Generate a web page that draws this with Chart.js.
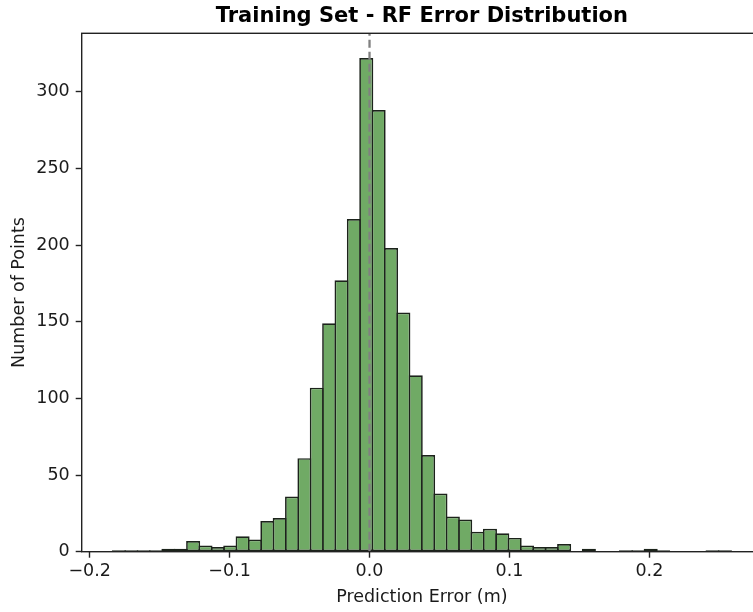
<!DOCTYPE html>
<html><head><meta charset="utf-8">
<script src="https://cdn.jsdelivr.net/npm/chart.js@4.4.0/dist/chart.umd.min.js"></script>
<style>html,body{margin:0;padding:0;overflow:hidden;background:#fff;width:753px;height:612px}canvas{display:block}</style>
</head><body>
<canvas id="c" width="770" height="612"></canvas>
<script>
// ---- data ----
const binStart = -0.1835;   // left edge of first bin
const binEnd = 0.2584;      // right edge of last bin
const counts = [1,1,1,1,2,2,7,4,3,4,10,8,20,22,36,61,107,149,177,217,322,288,198,156,115,63,38,23,21,13,15,12,9,4,3,3,5,0,2,0,0,1,1,2,1,0,0,0,1,1];
const xTicks = [-0.2,-0.1,0.0,0.1,0.2];
const yTicks = [0,50,100,150,200,250,300];
const refLineX = 0;
const xRange = [-0.2057, 0.2805];
const yMax = 338.1;
const titleText = 'Training Set - RF Error Distribution';
const xLabel = 'Prediction Error (m)';
const yLabel = 'Number of Points';

const binW = (binEnd - binStart) / counts.length;
const barData = counts.map((c, i) => ({x: binStart + (i + 0.5) * binW, y: c}));

Chart.defaults.font.family = 'DejaVu Sans';
Chart.defaults.font.size = 17.5;
Chart.defaults.color = '#1a1a1a';

const frame = {
  id: 'frame',
  afterDatasetsDraw(chart) {
    const {ctx, chartArea: a} = chart;
    ctx.save();
    ctx.strokeStyle = '#222';
    ctx.lineWidth = 1.4;
    ctx.strokeRect(a.left, a.top, a.right - a.left, a.bottom - a.top);
    ctx.restore();
  }
};

const tickGrid = {display: true, offset: false, drawOnChartArea: false, drawTicks: true, tickLength: 6, tickWidth: 1.4, tickColor: '#222', color: '#222'};

new Chart(document.getElementById('c'), {
  type: 'bar',
  data: {
    datasets: [
      {type: 'line', data: [{x: refLineX, y: 0}, {x: refLineX, y: yMax}], borderColor: '#808080', borderWidth: 2.3, borderDash: [8, 4], pointRadius: 0, tension: 0, order: 0},
      {type: 'bar', data: barData, backgroundColor: 'rgb(112,170,101)', borderColor: '#1c231b', borderWidth: 1.7, borderSkipped: false, barPercentage: 1.137, categoryPercentage: 1, order: 1}
    ]
  },
  options: {
    responsive: false, animation: false, devicePixelRatio: 1,
    layout: {padding: {left: 0, right: 8, top: 0, bottom: 0}},
    plugins: {
      legend: {display: false}, tooltip: {enabled: false},
      title: {display: true, text: titleText, fullSize: false, color: '#000',
        font: {family: 'DejaVu Sans', size: 21, weight: 'bold'}, padding: {top: 4.4, bottom: 3.7}}
    },
    scales: {
      x: {
        type: 'linear', min: xRange[0], max: xRange[1], offset: false,
        grid: tickGrid, border: {display: false},
        afterBuildTicks: s => { s.ticks = xTicks.map(v => ({value: v})); },
        afterFit: s => { s.height = 60.3; },
        ticks: {padding: 3, maxRotation: 0, autoSkip: false,
          callback: v => (v < -1e-9 ? '\u2212' : '') + Math.abs(v).toFixed(1)},
        title: {display: true, text: xLabel, padding: {top: 0, bottom: 4.5}}
      },
      y: {
        type: 'linear', min: 0, max: yMax,
        grid: tickGrid, border: {display: false},
        afterBuildTicks: s => { s.ticks = yTicks.map(v => ({value: v})); },
        afterFit: s => { s.width = 81.7; },
        ticks: {padding: 6, autoSkip: false, callback: v => String(v)},
        title: {display: true, text: yLabel, padding: {top: 8.5, bottom: 0}}
      }
    }
  },
  plugins: [frame]
});
</script>
</body></html>
